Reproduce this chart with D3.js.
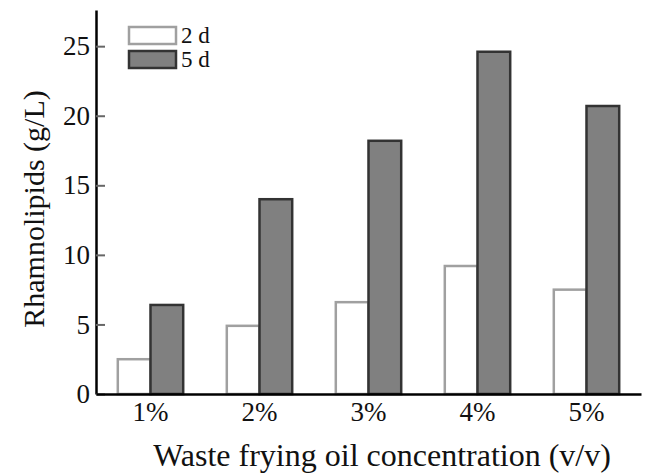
<!DOCTYPE html>
<html>
<head>
<meta charset="utf-8">
<script src="https://cdn.jsdelivr.net/npm/d3@7"></script>
<style>
  body { margin: 0; background: #fff; }
  svg text { font-family: "Liberation Serif", "Tinos", "Times New Roman", "DejaVu Serif", serif !important; fill: #111; }
</style>
</head>
<body>
<div id="chart"></div>
<script>
// data
const concentrations = [`1%`, `2%`, `3%`, `4%`, `5%`];
const seriesNames = [`2 d`, `5 d`];
const day2 = [2.5, 4.9, 6.6, 9.2, 7.5];
const day5 = [6.4, 14.0, 18.2, 24.6, 20.7];
const yTicks = [0, 5, 10, 15, 20, 25];

const W = 645, H = 474;
const margin = {top: 10, right: 4, bottom: 80, left: 96};
const width = W - margin.left - margin.right;
const height = H - margin.top - margin.bottom;
const serif = `"Liberation Serif", "Tinos", "Times New Roman", "DejaVu Serif", serif`;

let svg = d3.select(`#chart`).append(`svg`)
  .attr(`width`, W)
  .attr(`height`, H)
  .attr(`font-family`, serif);

let graph = svg.append(`g`)
  .attr(`transform`, `translate(` + margin.left + `,` + margin.top + `)`);

//scales
let x0 = d3.scaleBand().domain(concentrations).range([0, width]).paddingInner(0.4).paddingOuter(0.2);
let x1 = d3.scaleBand().domain(seriesNames).range([0, x0.bandwidth()]).padding(0);
let y = d3.scaleLinear().domain([0, 27.6]).range([height, 0]);

const fills = {"2 d": `#ffffff`, "5 d": `#808080`};
const strokes = {"2 d": `#a0a0a0`, "5 d": `#333`};

//bars
let rows = concentrations.map((c, i) => ({c: c, vals: [{k: `2 d`, v: day2[i]}, {k: `5 d`, v: day5[i]}]}));

let groups = graph.append(`g`).selectAll(`g`)
  .data(rows)
  .enter()
  .append(`g`)
  .attr(`transform`, d => `translate(` + x0(d.c) + `,0)`);

groups.selectAll(`rect`)
  .data(d => d.vals)
  .enter()
  .append(`rect`)
  .attr(`x`, d => x1(d.k))
  .attr(`y`, d => y(d.v))
  .attr(`width`, x1.bandwidth())
  .attr(`height`, d => height - y(d.v))
  .attr(`fill`, d => fills[d.k])
  .attr(`stroke`, d => strokes[d.k])
  .attr(`stroke-width`, 2.5);

//Y-axis (ticks point inward)
let yAxis = graph.append(`g`)
  .attr(`class`, `y axis`)
  .call(d3.axisLeft(y).tickValues(yTicks).tickSizeInner(-9).tickSizeOuter(0).tickPadding(6));
yAxis.attr(`font-family`, serif);
yAxis.select(`.domain`).attr(`stroke`, `#000`).attr(`stroke-width`, 2.5);
yAxis.selectAll(`.tick line`).attr(`stroke`, `#666`).attr(`stroke-width`, 2);
yAxis.selectAll(`text`)
  .attr(`font-size`, 27)
  .attr(`fill`, `#111`);

//X-axis
let xAxis = graph.append(`g`)
  .attr(`class`, `x axis`)
  .attr(`transform`, `translate(0,` + height + `)`)
  .call(d3.axisBottom(x0).tickSize(0).tickSizeOuter(0));
xAxis.attr(`font-family`, serif);
xAxis.select(`.domain`).attr(`stroke`, `#000`).attr(`stroke-width`, 2.5);
xAxis.selectAll(`text`)
  .attr(`font-size`, 27)
  .attr(`fill`, `#111`)
  .attr(`y`, 27)
  .attr(`dy`, 0);

//axis titles
svg.append(`text`)
  .attr(`transform`, `translate(44,209) rotate(-90)`)
  .attr(`text-anchor`, `middle`)
  .attr(`font-size`, 30)
  .text(`Rhamnolipids (g/L)`);

svg.append(`text`)
  .attr(`x`, 382)
  .attr(`y`, 466)
  .attr(`text-anchor`, `middle`)
  .attr(`font-size`, 32)
  .text(`Waste frying oil concentration (v/v)`);

//legend
let legend = svg.append(`g`).attr(`transform`, `translate(129,27)`);
seriesNames.forEach((s, i) => {
  legend.append(`rect`)
    .attr(`x`, 0)
    .attr(`y`, i * 24)
    .attr(`width`, 47)
    .attr(`height`, 17)
    .attr(`fill`, fills[s])
    .attr(`stroke`, strokes[s])
    .attr(`stroke-width`, 2.5);
  legend.append(`text`)
    .attr(`x`, 52)
    .attr(`y`, i * 24 + 16)
    .attr(`font-size`, 23)
    .text(s);
});
</script>
</body>
</html>
